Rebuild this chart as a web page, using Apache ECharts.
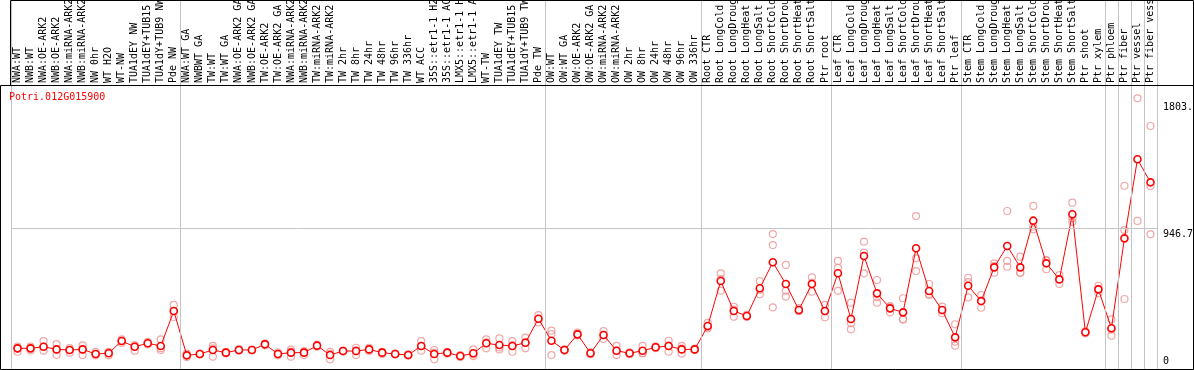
<!DOCTYPE html>
<html>
<head>
<meta charset="utf-8">
<script src="https://cdn.jsdelivr.net/npm/echarts@6/dist/echarts.min.js"></script>
<style>
	html, body { margin: 0; padding: 0; background: #fff; }
	#chart { width: 1194px; height: 370px; }
</style>
</head>
<body>
<div id="chart"></div>
<script>
	// 样品名称（从左到右）
	const categories = [
		"NWA:WT", "NWB:WT", "NWA:OE-ARK2", "NWB:OE-ARK2", "NWA:miRNA-ARK2", "NWB:miRNA-ARK2",
		"NW 0hr", "WT H2O", "WT-NW", "TUA1dEY NW", "TUA1dEY+TUB15 NW", "TUA1dY+TUB9 NW", "Pde NW",
		"NWA:WT GA", "NWBWT GA", "TW:WT", "TW:WT GA", "NWA:OE-ARK2 GA", "NWB:OE-ARK2 GA",
		"TW:OE-ARK2", "TW:OE-ARK2 GA", "NWA:miRNA-ARK2", "NWB:miRNA-ARK2", "TW:miRNA-ARK2", "TW:miRNA-ARK2",
		"TW 2hr", "TW 8hr", "TW 24hr", "TW 48hr", "TW 96hr", "TW 336hr", "WT ACC",
		"35S::etr1-1 H2O", "35S::etr1-1 ACC", "LMX5::etr1-1 H2O", "LMX5::etr1-1 ACC",
		"WT-TW", "TUA1dEY TW", "TUA1dEY+TUB15 TW", "TUA1dY+TUB9 TW", "Pde TW",
		"OW:WT", "OW:WT GA", "OW:OE-ARK2", "OW:OE-ARK2 GA", "OW:miRNA-ARK2", "OW:miRNA-ARK2",
		"OW 2hr", "OW 8hr", "OW 24hr", "OW 48hr", "OW 96hr", "OW 336hr",
		"Root CTR", "Root LongCold", "Root LongDrought", "Root LongHeat", "Root LongSalt",
		"Root ShortCold", "Root ShortDrought", "Root ShortHeat", "Root ShortSalt", "Ptr root",
		"Leaf CTR", "Leaf LongCold", "Leaf LongDrought", "Leaf LongHeat", "Leaf LongSalt",
		"Leaf ShortCold", "Leaf ShortDrought", "Leaf ShortHeat", "Leaf ShortSalt", "Ptr leaf",
		"Stem CTR", "Stem LongCold", "Stem LongDrought", "Stem LongHeat", "Stem LongSalt",
		"Stem ShortCold", "Stem ShortDrought", "Stem ShortHeat", "Stem ShortSalt", "Ptr shoot",
		"Ptr xylem", "Ptr phloem", "Ptr fiber", "Ptr vessel", "Ptr fiber vessel"
	];

	// 平均表达值
	const meanValues = [
		139, 139, 150, 132, 128, 132, 101, 106, 188, 150, 173, 155, 390,
		92, 101, 128, 110, 128, 128, 166, 101, 110, 110, 157, 94, 121, 121, 132, 110, 101, 94,
		155, 101, 110, 87, 106, 173, 161, 155, 177, 338,
		190, 128, 233, 106, 229, 123, 106, 123, 146, 155, 132, 132,
		289, 592, 390, 357, 543, 718, 572, 397, 572, 390,
		644, 336, 760, 509, 408, 381, 812, 525, 397, 213,
		560, 457, 684, 828, 684, 998, 711, 603, 1041, 247, 536,
		274, 879, 1411, 1256
	];

	// 各重复的表达值
	const replicateValues = [
		[139, 116, 150], [139, 125, 150], [188, 150, 123], [168, 132, 96], [128, 110, 140],
		[159, 132, 94], [115, 92, 101], [110, 92, 115], [200, 188, 175], [160, 123, 150],
		[182, 166, 173], [200, 140, 128], [431, 390, 350],
		[92, 80, 104], [101, 98, 104], [155, 139, 83], [110, 105, 115], [128, 122, 134],
		[128, 125, 131], [173, 159, 166], [101, 92, 110], [115, 83, 130], [120, 94, 116],
		[157, 150, 164], [115, 65, 102], [121, 118, 124], [143, 94, 126], [143, 121, 132],
		[115, 101, 114], [101, 98, 104], [94, 90, 98], [188, 123, 155], [128, 65, 110],
		[115, 104, 110], [87, 80, 94], [132, 87, 99], [200, 139, 180], [206, 132, 145],
		[188, 116, 161], [211, 139, 181], [363, 338, 313],
		[258, 235, 94], [128, 123, 133], [245, 225, 235], [106, 100, 112], [255, 229, 203],
		[155, 123, 94], [106, 100, 112], [155, 106, 108], [146, 140, 152], [190, 116, 159],
		[155, 104, 137], [137, 128, 132],
		[311, 274, 282], [644, 527, 605], [419, 352, 399], [357, 350, 364], [592, 503, 534],
		[908, 834, 415], [700, 527, 487], [410, 390, 391], [617, 520, 579], [431, 348, 391],
		[727, 680, 526], [446, 307, 267], [857, 783, 644], [599, 446, 482], [419, 381, 424],
		[476, 334, 333], [1029, 745, 659], [572, 498, 505], [420, 375, 396], [301, 184, 157],
		[614, 482, 584], [498, 412, 461], [711, 648, 693], [1063, 727, 688], [756, 648, 648],
		[1097, 957, 940], [733, 671, 729], [632, 572, 605], [1119, 1014, 990], [247, 240, 254],
		[560, 509, 539],
		[334, 224, 264], [1233, 935, 471], [1821, 996], [1635, 1231, 906]
	];

	// 分组分隔线（类目边界序号）
	const groupBreaks = [0, 13, 41, 53, 63, 73, 84, 85, 86, 87, 88];

	// 右侧刻度
	const yTickValues = [1803.3, 946.7, 0];
	const yTickLabels = ["1803.", "946.7", "0"];
	const gridLineValue = 946.7;
	const yMax = 2482.8;

	const geneId = "Potri.012G015900";

	const FONT = '"DejaVu Sans Mono", "Liberation Mono", monospace';
	const RED = "#ff0000";
	const PINK = "#eb9292";

	const replicatePoints = [];
	replicateValues.forEach((reps, i) => {
		reps.forEach(v => replicatePoints.push([i, v]));
	});

	const chart = echarts.init(document.getElementById("chart"), null, { renderer: "canvas" });

	const option = {
		animation: false,
		title: {
			text: geneId,
			left: 9,
			top: 92,
			padding: 0,
			textStyle: { color: RED, fontSize: 10, fontFamily: FONT, fontWeight: "normal" }
		},
		grid: { left: 11, right: 37, top: 0, bottom: 1, outerBoundsMode: "none" },
		xAxis: [
			{
				type: "category",
				data: categories,
				position: "top",
				offset: -85,
				axisLine: { show: false },
				axisTick: { show: false },
				splitLine: { show: false },
				axisLabel: {
					interval: 0,
					rotate: 90,
					margin: 2,
					color: "#000",
					fontSize: 10,
					fontFamily: FONT
				}
			},
			{ type: "value", min: 0, max: categories.length, show: false }
		],
		yAxis: { type: "value", min: 0, max: yMax, show: false },
		series: [
			{
				name: "separators",
				type: "line",
				xAxisIndex: 1,
				data: [[0, 0]],
				symbol: "none",
				lineStyle: { opacity: 0 },
				silent: true,
				markLine: {
					silent: true,
					symbol: "none",
					label: { show: false },
					lineStyle: { color: "#c4c4c4", width: 1, type: "solid" },
					data: groupBreaks.map(b => ({ xAxis: b })).concat([{ yAxis: gridLineValue }])
				}
			},
			{
				name: "replicates",
				type: "scatter",
				data: replicatePoints,
				symbol: "circle",
				symbolSize: 7,
				itemStyle: { color: "rgba(255,255,255,0)", borderColor: PINK, borderWidth: 1.2 }
			},
			{
				name: "mean",
				type: "line",
				data: meanValues,
				symbol: "circle",
				symbolSize: 7,
				showAllSymbol: true,
				lineStyle: { color: RED, width: 1 },
				itemStyle: { color: "#fff", borderColor: RED, borderWidth: 1.6 }
			}
		]
	};

	chart.setOption(option);

	// 右侧刻度文字与边框
	const graphics = yTickValues.map((v, i) => {
		const y = chart.convertToPixel({ yAxisIndex: 0 }, v);
		return {
			type: "text",
			x: 1163,
			y: Math.min(y + 1, 366),
			style: {
				text: yTickLabels[i],
				fill: "#000",
				font: "10px " + FONT,
				verticalAlign: v === 0 ? "bottom" : "top"
			}
		};
	});
	graphics.push(
		{ type: "rect", shape: { x: 10.5, y: 0.5, width: 1183, height: 85 }, style: { fill: null, stroke: "#000", lineWidth: 1 }, z: 100 },
		{ type: "rect", shape: { x: 0.5, y: 85.5, width: 1193, height: 284 }, style: { fill: null, stroke: "#000", lineWidth: 1 }, z: 100 }
	);
	chart.setOption({ graphic: graphics });
</script>
</body>
</html>
